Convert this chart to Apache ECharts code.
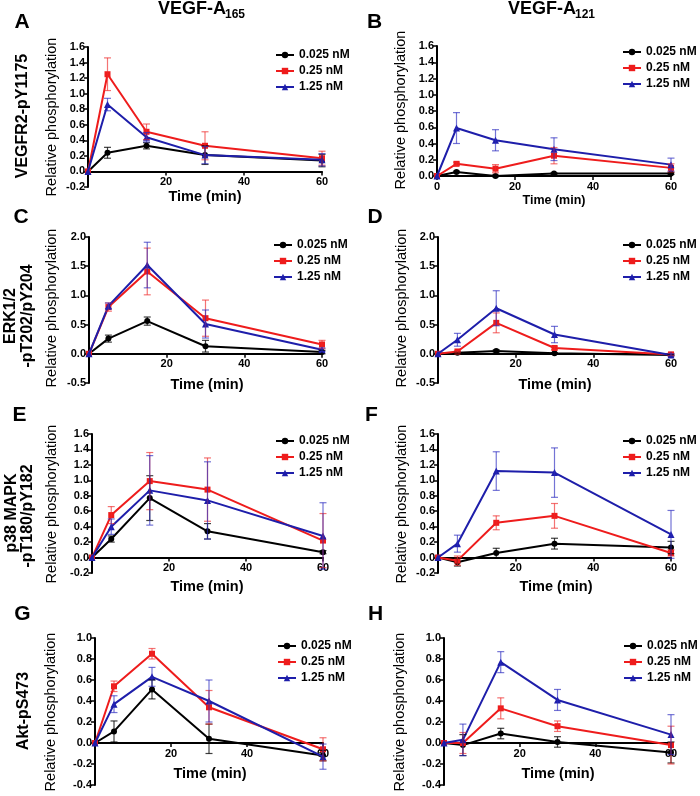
<!DOCTYPE html>
<html>
<head>
<meta charset="utf-8">
<script src="https://cdn.jsdelivr.net/npm/echarts@6/dist/echarts.min.js"></script>
<style>html,body{margin:0;padding:0;background:#fff;}#c{width:700px;height:796px;}</style>
</head>
<body>
<div id="c"></div>
<script>
// ---------- DATA ----------
const times = [0, 5, 15, 30, 60];
const seriesNames = ['0.025 nM', '0.25 nM', '1.25 nM'];
const xTicks = [0, 20, 40, 60];
const yTitle = 'Relative phosphorylation';
const xTitle = 'Time (min)';
const colTitles = ['VEGF-A', 'VEGF-A'];
const colSubs = ['165', '121'];
const panelLetters = ['A', 'B', 'C', 'D', 'E', 'F', 'G', 'H'];
const rowLabels = [['VEGFR2-pY1175'], ['ERK1/2', '-pT202/pY204'], ['p38 MAPK', '-pT180/pY182'], ['Akt-pS473']];

// Panel A: VEGFR2-pY1175, VEGF-A165
const A_low = [0, 0.24, 0.33, 0.21, 0.14];
const A_low_err = [0, 0.07, 0.04, 0.12, 0.08];
const A_mid = [0, 1.25, 0.51, 0.33, 0.17];
const A_mid_err = [0, 0.21, 0.10, 0.18, 0.09];
const A_high = [0, 0.86, 0.44, 0.21, 0.15];
const A_high_err = [0, 0.08, 0.06, 0.11, 0.08];
// Panel B: VEGFR2-pY1175, VEGF-A121
const B_low = [0, 0.05, 0.00, 0.03, 0.03];
const B_low_err = [0, 0.01, 0.01, 0.01, 0.01];
const B_mid = [0, 0.15, 0.09, 0.25, 0.10];
const B_mid_err = [0, 0.02, 0.05, 0.10, 0.05];
const B_high = [0, 0.59, 0.44, 0.33, 0.14];
const B_high_err = [0, 0.19, 0.13, 0.14, 0.08];
// Panel C: ERK1/2, VEGF-A165
const C_low = [0, 0.26, 0.56, 0.13, 0.03];
const C_low_err = [0, 0.06, 0.07, 0.10, 0.03];
const C_mid = [0, 0.80, 1.41, 0.61, 0.16];
const C_mid_err = [0, 0.07, 0.40, 0.31, 0.07];
const C_high = [0, 0.82, 1.52, 0.51, 0.07];
const C_high_err = [0, 0.05, 0.39, 0.24, 0.03];
// Panel D: ERK1/2, VEGF-A121
const D_low = [0, 0.02, 0.05, 0.01, -0.02];
const D_low_err = [0, 0.01, 0.02, 0.01, 0.01];
const D_mid = [0, 0.04, 0.53, 0.10, -0.01];
const D_mid_err = [0, 0.01, 0.17, 0.03, 0.02];
const D_high = [0, 0.24, 0.78, 0.33, -0.02];
const D_high_err = [0, 0.11, 0.30, 0.14, 0.02];
// Panel E: p38 MAPK, VEGF-A165
const E_low = [0, 0.24, 0.77, 0.34, 0.07];
const E_low_err = [0, 0.04, 0.29, 0.10, 0.02];
const E_mid = [0, 0.55, 0.99, 0.88, 0.22];
const E_mid_err = [0, 0.11, 0.37, 0.41, 0.35];
const E_high = [0, 0.40, 0.87, 0.74, 0.28];
const E_high_err = [0, 0.10, 0.45, 0.50, 0.43];
// Panel F: p38 MAPK, VEGF-A121
const F_low = [0, -0.06, 0.06, 0.18, 0.13];
const F_low_err = [0, 0.05, 0.06, 0.07, 0.08];
const F_mid = [0, -0.04, 0.45, 0.54, 0.06];
const F_mid_err = [0, 0.06, 0.09, 0.16, 0.04];
const F_high = [0, 0.18, 1.12, 1.10, 0.30];
const F_high_err = [0, 0.11, 0.25, 0.32, 0.31];
// Panel G: Akt-pS473, VEGF-A165
const G_low = [0, 0.11, 0.51, 0.04, -0.12];
const G_low_err = [0, 0.10, 0.09, 0.14, 0.05];
const G_mid = [0, 0.54, 0.85, 0.34, -0.06];
const G_mid_err = [0, 0.05, 0.05, 0.16, 0.11];
const G_high = [0, 0.37, 0.63, 0.40, -0.13];
const G_high_err = [0, 0.08, 0.09, 0.20, 0.12];
// Panel H: Akt-pS473, VEGF-A121
const H_low = [0, -0.02, 0.09, 0.01, -0.09];
const H_low_err = [0, 0.10, 0.05, 0.05, 0.10];
const H_mid = [0, 0.00, 0.33, 0.16, -0.02];
const H_mid_err = [0, 0.10, 0.10, 0.05, 0.18];
const H_high = [0, 0.03, 0.77, 0.41, 0.08];
const H_high_err = [0, 0.15, 0.10, 0.10, 0.19];

// y-axis ranges per panel [min, max, interval]
const yRanges = {
  A: [-0.2, 1.6, 0.2], B: [0, 1.6, 0.2], C: [-0.5, 2.0, 0.5], D: [-0.5, 2.0, 0.5],
  E: [-0.2, 1.6, 0.2], F: [-0.2, 1.6, 0.2], G: [-0.4, 1.0, 0.2], H: [-0.4, 1.0, 0.2]
};

// ---------- LAYOUT / STYLE ----------
const FONT = '"Liberation Sans", Arial, Helvetica, sans-serif';
const colors = ['#000000', '#ee1c1c', '#1e1eaa'];
const errColors = ['rgba(0,0,0,0.75)', 'rgba(238,40,40,0.65)', 'rgba(40,40,190,0.65)'];
const symbols = ['circle', 'rect', 'triangle'];
const symbolSizes = [6, 6, 7];

const panelData = {
  A: [[A_low, A_low_err], [A_mid, A_mid_err], [A_high, A_high_err]],
  B: [[B_low, B_low_err], [B_mid, B_mid_err], [B_high, B_high_err]],
  C: [[C_low, C_low_err], [C_mid, C_mid_err], [C_high, C_high_err]],
  D: [[D_low, D_low_err], [D_mid, D_mid_err], [D_high, D_high_err]],
  E: [[E_low, E_low_err], [E_mid, E_mid_err], [E_high, E_high_err]],
  F: [[F_low, F_low_err], [F_mid, F_mid_err], [F_high, F_high_err]],
  G: [[G_low, G_low_err], [G_mid, G_mid_err], [G_high, G_high_err]],
  H: [[H_low, H_low_err], [H_mid, H_mid_err], [H_high, H_high_err]]
};

const layout = {
  A: {grid: [88, 47, 234, 140], legend: [275, 49], letter: [22, 22.5], yt: [52, 117], xt: [205, 197, 14.5], showZero: false},
  B: {grid: [437, 46, 234, 130], legend: [622, 46], letter: [374.5, 22.5], yt: [401, 110], xt: [554, 201, 12.5], showZero: true},
  C: {grid: [89, 237, 233, 146], legend: [273, 239], letter: [21, 217.5], yt: [52, 308], xt: [207, 385, 14.5], showZero: false},
  D: {grid: [438, 237, 233, 146], legend: [622, 239], letter: [375, 217.5], yt: [402, 308], xt: [555, 385, 14.5], showZero: false},
  E: {grid: [92, 434, 231, 139], legend: [275, 435], letter: [19.5, 415.5], yt: [52, 504], xt: [207, 587, 14.5], showZero: false},
  F: {grid: [438, 434, 233, 139], legend: [622, 435], letter: [371.5, 415.5], yt: [402, 504], xt: [556, 587, 14.5], showZero: false},
  G: {grid: [95, 638, 228, 147], legend: [277, 640], letter: [22.5, 614.5], yt: [51, 712], xt: [210, 774, 14.5], showZero: false},
  H: {grid: [444, 638, 227, 147], legend: [623, 640], letter: [375.5, 614.5], yt: [400, 712], xt: [558, 774, 14.5], showZero: false}
};

const chart = echarts.init(document.getElementById('c'), null, {renderer: 'canvas'});

const grids = [], xAxes = [], yAxes = [], series = [], legends = [], graphics = [];

panelLetters.forEach((p, i) => {
  const L = layout[p];
  const yr = yRanges[p];
  grids.push({left: L.grid[0], top: L.grid[1], width: L.grid[2], height: L.grid[3], containLabel: false});
  const showZero = L.showZero;
  // place the x axis at y = 0 by shifting it up from the grid bottom
  const zeroOffset = -L.grid[3] * (0 - yr[0]) / (yr[1] - yr[0]);
  xAxes.push({
    gridIndex: i, type: 'value', min: 0, max: 60, interval: 20, position: 'bottom', offset: zeroOffset,
    axisLine: {show: true, onZero: false, lineStyle: {color: '#000', width: 2}},
    axisTick: {show: true, length: 4, lineStyle: {color: '#000', width: 1.5}},
    axisLabel: {color: '#000', fontFamily: FONT, fontWeight: 'bold', fontSize: 11, margin: 5,
      formatter: v => (v === 0 && !showZero) ? '' : String(v)},
    splitLine: {show: false}
  });
  yAxes.push({
    gridIndex: i, type: 'value', min: yr[0], max: yr[1], interval: yr[2],
    axisLine: {show: true, onZero: false, lineStyle: {color: '#000', width: 2}},
    axisTick: {show: true, length: 4, lineStyle: {color: '#000', width: 1.5}},
    axisLabel: {color: '#000', fontFamily: FONT, fontWeight: 'bold', fontSize: 11, margin: 3,
      formatter: v => (Math.abs(v) < 1e-9 ? 0 : v).toFixed(1)},
    splitLine: {show: false}
  });
  panelData[p].forEach((pair, k) => {
    const vals = pair[0], errs = pair[1];
    series.push({
      type: 'line', name: seriesNames[k], xAxisIndex: i, yAxisIndex: i,
      data: times.map((t, j) => [t, vals[j]]),
      symbol: symbols[k], symbolSize: symbolSizes[k], showSymbol: true,
      lineStyle: {color: colors[k], width: 2}, itemStyle: {color: colors[k]},
      z: 3 + k, animation: false
    });
    series.push({
      type: 'custom', name: 'err' + k, xAxisIndex: i, yAxisIndex: i,
      data: times.map((t, j) => [t, vals[j], errs[j]]),
      encode: {x: 0, y: 1},
      z: 6 + k, animation: false, silent: true, clip: false,
      renderItem: function (params, api) {
        const x = api.value(0), y = api.value(1), e = api.value(2);
        if (!(e > 0)) return null;
        const top = api.coord([x, y + e]);
        const bot = api.coord([x, y - e]);
        const w = 3.5;
        const st = {stroke: errColors[k], lineWidth: 1.2};
        return {type: 'group', children: [
          {type: 'line', shape: {x1: top[0], y1: top[1], x2: bot[0], y2: bot[1]}, style: st},
          {type: 'line', shape: {x1: top[0] - w, y1: top[1], x2: top[0] + w, y2: top[1]}, style: st},
          {type: 'line', shape: {x1: bot[0] - w, y1: bot[1], x2: bot[0] + w, y2: bot[1]}, style: st}
        ]};
      }
    });
  });
  legends.push({
    orient: 'vertical', left: L.legend[0], top: L.legend[1], data: seriesNames,
    itemWidth: 18, itemHeight: 8, itemGap: 4, padding: 0,
    textStyle: {color: '#000', fontFamily: FONT, fontWeight: 'bold', fontSize: 12}
  });
  graphics.push({type: 'text', x: L.letter[0], y: L.letter[1],
    style: {text: p, fill: '#000', font: 'bold 21px ' + FONT, textAlign: 'center', textVerticalAlign: 'middle'}});
  graphics.push({type: 'text', x: L.yt[0], y: L.yt[1], rotation: Math.PI / 2,
    style: {text: yTitle, fill: '#000', font: '14.5px ' + FONT, textAlign: 'center', textVerticalAlign: 'middle'}});
  graphics.push({type: 'text', x: L.xt[0], y: L.xt[1],
    style: {text: xTitle, fill: '#000', font: 'bold ' + L.xt[2] + 'px ' + FONT, textAlign: 'center', textVerticalAlign: 'middle'}});
});

// column titles
const titleX = [158, 508];
colTitles.forEach((t, c) => {
  graphics.push({type: 'text', x: titleX[c], y: 9,
    style: {text: t, fill: '#000', font: 'bold 18px ' + FONT, textAlign: 'left', textVerticalAlign: 'middle'}});
  graphics.push({type: 'text', x: titleX[c] + 67, y: 15,
    style: {text: colSubs[c], fill: '#000', font: 'bold 12px ' + FONT, textAlign: 'left', textVerticalAlign: 'middle'}});
});

// row labels (rotated)
const rowPos = [
  [[23, 116]],
  [[11, 316], [28, 316]],
  [[12, 513], [28, 516]],
  [[24, 711]]
];
rowLabels.forEach((lines, r) => {
  lines.forEach((txt, li) => {
    const pos = rowPos[r][li];
    graphics.push({type: 'text', x: pos[0], y: pos[1], rotation: Math.PI / 2,
      style: {text: txt, fill: '#000', font: 'bold 16px ' + FONT, textAlign: 'center', textVerticalAlign: 'middle'}});
  });
});

chart.setOption({
  animation: false,
  backgroundColor: '#fff',
  grid: grids, xAxis: xAxes, yAxis: yAxes, series: series, legend: legends,
  graphic: graphics
});
</script>
</body>
</html>
